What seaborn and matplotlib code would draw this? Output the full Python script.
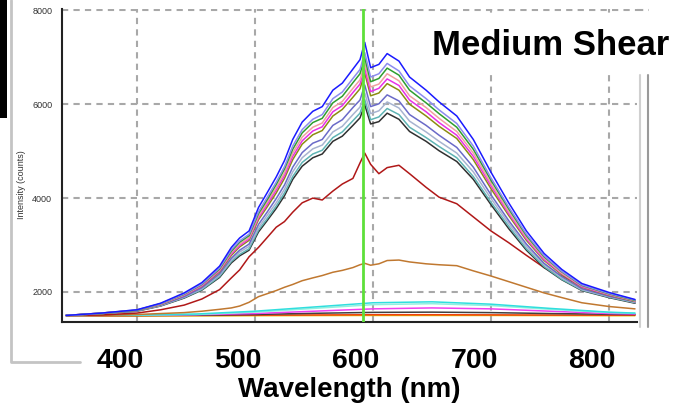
import matplotlib
matplotlib.use("Agg")
import numpy as np
import pandas as pd
import matplotlib.pyplot as plt
import seaborn as sns
from matplotlib.lines import Line2D
from matplotlib.patches import Rectangle
from matplotlib.transforms import ScaledTranslation

# ---------------- data ----------------
wl = [340, 370, 400, 420, 440, 455, 470, 480, 487, 495, 503, 510, 518, 525, 532, 540,
      549, 557, 566, 574, 583, 589, 593, 598, 605, 612, 622, 631, 645, 656, 671, 685,
      700, 715, 730, 745, 760, 777, 800, 822]

s_blue = [1500, 1550, 1620, 1760, 1980, 2200, 2550, 2950, 3150, 3300, 3800, 4100, 4450, 4800, 5250, 5620,
          5850, 5950, 6300, 6450, 6750, 6950, 7320, 6780, 6850, 7080, 6920, 6580, 6300, 6050, 5750, 5250,
          4550, 3900, 3300, 2820, 2480, 2180, 1990, 1840]
s_lavender = [1500, 1550, 1620, 1750, 1960, 2170, 2510, 2900, 3090, 3230, 3710, 4000, 4340, 4670, 5110, 5460,
              5680, 5780, 6120, 6260, 6550, 6740, 7100, 6580, 6650, 6870, 6710, 6390, 6120, 5880, 5590, 5110,
              4430, 3810, 3230, 2770, 2440, 2150, 1970, 1830]
s_green = [1500, 1550, 1610, 1750, 1950, 2160, 2490, 2870, 3060, 3200, 3670, 3950, 4290, 4620, 5040, 5390,
           5610, 5700, 6030, 6170, 6460, 6650, 6990, 6480, 6550, 6770, 6620, 6300, 6030, 5800, 5510, 5040,
           4380, 3770, 3200, 2750, 2430, 2140, 1960, 1820]
s_salmon = [1500, 1550, 1610, 1740, 1940, 2150, 2470, 2840, 3020, 3160, 3620, 3900, 4220, 4540, 4960, 5300,
            5510, 5600, 5930, 6060, 6340, 6520, 6870, 6370, 6430, 6650, 6500, 6180, 5930, 5700, 5420, 4960,
            4310, 3710, 3160, 2720, 2400, 2130, 1950, 1810]
s_magenta = [1500, 1550, 1610, 1740, 1930, 2130, 2450, 2810, 2990, 3130, 3580, 3850, 4170, 4480, 4890, 5220,
             5430, 5520, 5840, 5970, 6250, 6430, 6760, 6270, 6340, 6540, 6400, 6090, 5840, 5610, 5340, 4890,
             4260, 3670, 3130, 2690, 2390, 2110, 1940, 1810]
s_olive = [1500, 1540, 1610, 1730, 1930, 2120, 2430, 2780, 2960, 3100, 3540, 3800, 4110, 4420, 4820, 5150,
           5350, 5440, 5750, 5890, 6150, 6330, 6660, 6180, 6240, 6440, 6300, 6000, 5750, 5530, 5270, 4820,
           4200, 3630, 3100, 2670, 2370, 2100, 1930, 1800]
s_slate = [1500, 1540, 1600, 1720, 1900, 2090, 2390, 2720, 2890, 3020, 3440, 3690, 3990, 4280, 4660, 4970,
           5170, 5250, 5550, 5670, 5930, 6090, 6410, 5950, 6010, 6200, 6070, 5780, 5550, 5340, 5080, 4660,
           4070, 3520, 3020, 2610, 2330, 2070, 1910, 1790]
s_steel = [1500, 1540, 1600, 1710, 1890, 2070, 2360, 2680, 2850, 2970, 3370, 3620, 3900, 4190, 4560, 4860,
           5050, 5130, 5410, 5530, 5780, 5940, 6240, 5800, 5860, 6050, 5920, 5640, 5410, 5210, 4960, 4560,
           3990, 3460, 2970, 2580, 2300, 2050, 1900, 1780]
s_teal = [1500, 1540, 1600, 1710, 1880, 2050, 2330, 2650, 2800, 2920, 3320, 3550, 3830, 4110, 4460, 4760,
          4940, 5020, 5290, 5410, 5650, 5810, 6100, 5670, 5730, 5910, 5780, 5510, 5290, 5100, 4860, 4460,
          3910, 3400, 2920, 2540, 2270, 2040, 1890, 1770]
s_black = [1500, 1540, 1590, 1700, 1870, 2040, 2310, 2620, 2770, 2890, 3280, 3510, 3780, 4050, 4400, 4680,
           4860, 4940, 5210, 5320, 5550, 5710, 5990, 5580, 5630, 5810, 5680, 5420, 5210, 5010, 4780, 4400,
           3860, 3350, 2890, 2520, 2260, 2030, 1880, 1760]
s_red = [1500, 1510, 1550, 1620, 1720, 1850, 2050, 2300, 2470, 2750, 2950, 3150, 3380, 3500, 3700, 3900,
         4000, 3960, 4150, 4300, 4420, 4750, 4960, 4720, 4520, 4650, 4700, 4520, 4230, 4020, 3880, 3600,
         3300, 3050, 2780, 2520, 2340, 2120, 1900, 1770]
s_brown = [1500, 1500, 1520, 1540, 1560, 1590, 1630, 1660, 1700, 1780, 1900, 1960, 2030, 2100, 2160, 2240,
           2300, 2350, 2420, 2460, 2520, 2580, 2610, 2570, 2600, 2670, 2680, 2640, 2600, 2580, 2560, 2450,
           2340, 2220, 2100, 1980, 1880, 1770, 1690, 1640]

low_wl = [340, 400, 450, 500, 550, 600, 650, 700, 750, 800, 822]
s_cyan = [1500, 1510, 1530, 1590, 1680, 1770, 1790, 1740, 1650, 1570, 1550]
s_turq = [1500, 1505, 1520, 1570, 1650, 1730, 1750, 1710, 1630, 1560, 1545]
s_pink = [1500, 1505, 1515, 1540, 1590, 1640, 1660, 1640, 1590, 1540, 1530]
s_gray = [1500, 1500, 1505, 1520, 1545, 1565, 1570, 1560, 1540, 1525, 1520]
s_orange = [1495, 1495, 1500, 1505, 1510, 1515, 1515, 1512, 1508, 1505, 1505]
s_yellow = [1490, 1490, 1492, 1495, 1498, 1500, 1500, 1500, 1498, 1495, 1495]

x_ticks = [400, 500, 600, 700, 800]
y_ticks = [2000, 4000, 6000, 8000]
marker_wl = 591.5

# ---------------- build long table ----------------
series = [
    ("yellow", low_wl, s_yellow, "#e0c000"),
    ("orange", low_wl, s_orange, "#f04010"),
    ("gray", low_wl, s_gray, "#404040"),
    ("pink", low_wl, s_pink, "#f040f0"),
    ("turq", low_wl, s_turq, "#90f0e0"),
    ("cyan", low_wl, s_cyan, "#30dede"),
    ("brown", wl, s_brown, "#c07830"),
    ("red", wl, s_red, "#b01818"),
    ("black", wl, s_black, "#303030"),
    ("teal", wl, s_teal, "#5fb4b4"),
    ("steel", wl, s_steel, "#a8b4d0"),
    ("slate", wl, s_slate, "#6a6ac8"),
    ("olive", wl, s_olive, "#8c8c10"),
    ("magenta", wl, s_magenta, "#e830e8"),
    ("salmon", wl, s_salmon, "#f0a0a0"),
    ("green", wl, s_green, "#2e9e2e"),
    ("lavender", wl, s_lavender, "#8c8cf0"),
    ("blue", wl, s_blue, "#1a1aff"),
]
frames = [pd.DataFrame({"wl": x, "I": y, "s": name}) for name, x, y, _ in series]
df = pd.concat(frames, ignore_index=True)
palette = {name: c for name, _, _, c in series}
order = [name for name, _, _, _ in series]

# ---------------- figure ----------------
sns.set_style("white")
plt.rcParams["font.family"] = ["Liberation Sans", "DejaVu Sans"]
plt.rcParams["text.color"] = "black"
plt.rcParams["axes.labelcolor"] = "black"

W, H = 674, 415
fig = plt.figure(figsize=(W / 100, H / 100), dpi=100)
fx = lambda px: px / W
fy = lambda py: 1 - py / H

ax = fig.add_axes([fx(62), fy(322), fx(637) - fx(62), fy(9) - fy(322)])
ax.set_xlim(336.5, 823.7)
ax.set_ylim(1360, 8030)

# grid
for xv in x_ticks:
    ax.axvline(xv, color="#a8a8a8", lw=1.5, ls=(0, (3, 2.5)), zorder=0)
for yv in y_ticks:
    ax.axhline(yv, color="#a8a8a8", lw=1.5, ls=(0, (3, 2.5)), zorder=0)

sns.lineplot(data=df, x="wl", y="I", hue="s", hue_order=order, palette=palette,
             estimator=None, sort=False, legend=False, lw=1.1, ax=ax)

ax.axvline(marker_wl, color="#5ee03a", lw=2, zorder=5)

for side in ["top", "right"]:
    ax.spines[side].set_visible(False)
for side in ["left", "bottom"]:
    ax.spines[side].set_color("#222222")
    ax.spines[side].set_linewidth(1.5)

ax.set_yticks(y_ticks)
ax.set_yticklabels([str(v) for v in y_ticks], fontsize=6.5, color="#333333")
ax.tick_params(axis="y", direction="out", length=5, width=1.2, color="#333333", pad=2)
ax.set_xticks(x_ticks)
ax.set_xticklabels([str(v) for v in x_ticks], fontsize=20.5, fontweight="bold", color="black")
ax.tick_params(axis="x", direction="out", length=5, width=1.2, color="#555555", pad=14)
for lab in ax.get_xticklabels():
    lab.set_transform(lab.get_transform() + ScaledTranslation(-0.17, 0, fig.dpi_scale_trans))

ax.set_xlabel("Wavelength (nm)", fontsize=20, fontweight="bold", color="black", labelpad=2)
ax.set_ylabel("Intensity (counts)", fontsize=6.5, color="#333333")
ax.yaxis.set_label_coords((26 - 62) / 575, (322 - 185) / 313)

# screenshot decorations
fig.add_artist(Rectangle((0, fy(118)), fx(7), 118 / H, color="black", lw=0))
fig.add_artist(Line2D([fx(11), fx(11), fx(80)], [fy(0), fy(362), fy(362)], color="#c4c4c4", lw=2))
fig.add_artist(Line2D([fx(637), fx(649)], [fy(10), fy(10)], color="#a8a8a8", lw=1.5, ls=(0, (3, 2.5))))
fig.add_artist(Line2D([fx(640), fx(640)], [fy(75), fy(327)], color="#d0d0d0", lw=1.5))
fig.add_artist(Line2D([fx(648), fx(648)], [fy(75), fy(327)], color="#9a9a9a", lw=1.5))
fig.add_artist(Rectangle((fx(415), fy(72)), fx(674) - fx(415), (72 - 15) / H,
                         color="white", lw=0, zorder=10))
fig.text(fx(432), fy(55), "Medium Shear", fontsize=25, fontweight="bold", color="black",
         ha="left", va="baseline", zorder=11)

fig.savefig("out.png", dpi=100)
